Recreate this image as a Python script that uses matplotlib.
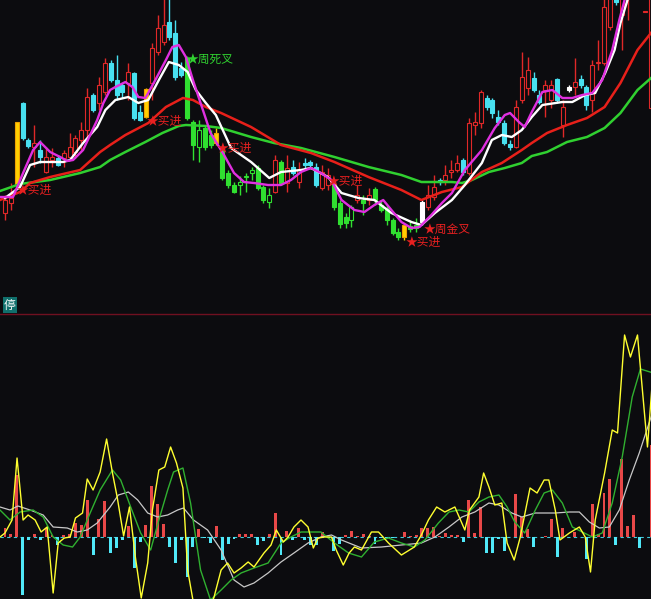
import matplotlib
matplotlib.use("Agg")
import matplotlib.pyplot as plt
from matplotlib.patches import Rectangle

plt.rcParams['font.family'] = ['Noto Sans CJK SC', 'DejaVu Sans']

# candle kinds: r red up, c cyan down, g green, y yellow, w white
kinds = list("rryccrcrrc" "rrrrrcrrcc" "crccyrrrcc" "cgggggyggg" "ggggggrgrc"
             "rcccrrgggg" "rgrgggggyg" "gwrrcrrrcr" "rrcccccrrr" "ccrrcrwrcc" "rrrrcrrrrrr")

opens = [8.7, 9.7, 11.5, 19.7, 16.0, 15.3, 15.0, 12.8, 14.0, 14.2,
         14.2, 14.3, 14.8, 16.0, 17.0, 20.5, 19.7, 20.8, 23.7, 22.0,
         21.5, 21.7, 22.7, 18.8, 18.3, 21.7, 24.8, 25.8, 27.8, 26.7,
         23.2, 24.2, 17.8, 15.3, 17.2, 16.5, 15.7, 15.0, 12.7, 11.5,
         11.5, 12.3, 12.7, 13.2, 11.3, 9.8, 10.8, 13.8, 11.7, 13.3,
         11.8, 13.7, 13.8, 13.3, 11.2, 11.5, 11.6, 9.7, 8.3, 8.0,
         10.0, 10.0, 10.0, 11.1, 9.5, 9.2, 8.0, 6.8, 6.3, 7.4,
         7.5, 7.8, 9.3, 10.3, 12.0, 12.0, 12.8, 13.0, 14.0, 12.7,
         17.5, 17.7, 20.2, 20.0, 18.3, 17.7, 15.6, 15.3, 20.0, 21.2,
         22.2, 20.5, 21.0, 20.0, 22.1, 17.5, 21.0, 21.3, 22.1, 21.3,
         20.0, 23.7, 23.7, 27.3, 30.5, 28.5, 30.5, 34.5, 36.0, 28.8, 19.2]
closes = [10.0, 10.2, 17.8, 16.2, 15.4, 15.7, 14.3, 14.3, 14.3, 13.5,
          14.7, 15.3, 16.2, 17.0, 20.3, 19.0, 21.5, 23.7, 22.0, 20.5,
          20.8, 22.8, 18.2, 18.0, 21.1, 25.2, 27.2, 27.5, 26.3, 22.3,
          22.5, 18.2, 15.5, 17.0, 15.3, 15.5, 16.7, 12.2, 11.5, 10.8,
          11.8, 12.4, 13.0, 11.2, 10.0, 10.5, 14.0, 11.7, 13.2, 12.7,
          13.0, 13.5, 13.5, 11.5, 12.8, 12.5, 9.3, 7.6, 7.7, 9.3,
          10.5, 9.7, 10.5, 10.0, 9.0, 8.0, 6.7, 6.3, 7.5, 7.1,
          7.2, 9.8, 10.5, 11.3, 11.8, 12.5, 13.0, 13.7, 12.8, 17.7,
          17.8, 20.8, 19.3, 18.7, 17.8, 15.7, 15.3, 19.3, 22.3, 23.0,
          21.0, 19.8, 21.5, 21.5, 20.0, 19.3, 21.3, 21.8, 21.5, 19.5,
          23.5, 23.8, 29.3, 31.0, 29.8, 31.0, 34.0, 38.0, 39.0, 28.8, 36.0]
highs = [10.5, 11.7, 17.8, 19.8, 16.2, 17.5, 16.0, 15.3, 15.2, 14.5,
         15.0, 16.7, 16.5, 17.8, 21.2, 20.7, 22.3, 24.2, 24.0, 24.5,
         21.7, 23.7, 22.8, 19.5, 21.2, 25.7, 28.5, 30.5, 30.5, 28.0,
         23.8, 24.4, 18.0, 18.0, 17.5, 17.0, 17.2, 15.2, 13.0, 11.8,
         12.4, 12.7, 13.3, 13.5, 11.5, 11.2, 14.5, 14.0, 14.5, 14.0,
         13.8, 14.2, 14.0, 13.7, 13.5, 13.2, 11.8, 10.0, 8.7, 9.5,
         11.5, 10.5, 11.2, 11.3, 10.0, 9.5, 8.2, 7.2, 7.7, 8.0,
         8.2, 10.0, 11.5, 12.5, 12.2, 13.5, 14.0, 14.5, 14.2, 18.2,
         18.8, 21.0, 20.5, 20.2, 19.0, 18.0, 16.0, 20.0, 24.8, 24.3,
         22.8, 21.0, 22.0, 22.0, 22.2, 20.0, 21.5, 24.2, 22.5, 21.5,
         24.0, 26.0, 30.5, 32.0, 31.5, 32.0, 35.0, 39.0, 40.0, 28.8, 37.0]
lows = [8.0, 9.0, 11.3, 16.0, 15.2, 13.3, 13.7, 12.7, 13.3, 13.4,
        13.3, 14.0, 14.2, 15.0, 16.3, 18.8, 19.0, 20.5, 21.8, 20.0,
        20.2, 20.0, 18.0, 17.9, 18.2, 20.0, 24.5, 25.5, 26.0, 22.0,
        22.3, 18.0, 14.0, 13.8, 15.0, 15.2, 15.5, 12.0, 11.2, 10.7,
        10.5, 10.8, 12.0, 11.0, 9.7, 9.2, 10.7, 11.5, 10.8, 12.5,
        11.2, 13.2, 13.3, 11.3, 11.0, 11.0, 9.0, 7.2, 7.2, 7.3,
        9.7, 8.5, 9.5, 9.5, 8.8, 7.5, 6.5, 6.0, 6.0, 6.8,
        6.8, 7.5, 9.0, 10.0, 11.5, 11.5, 12.2, 12.8, 12.5, 12.5,
        16.5, 17.2, 19.0, 18.2, 17.5, 15.5, 15.0, 15.2, 19.7, 20.5,
        20.8, 19.6, 18.3, 19.2, 19.7, 16.3, 20.8, 20.5, 21.2, 19.0,
        18.8, 23.0, 23.5, 27.0, 29.5, 25.0, 28.0, 33.0, 34.0, 28.8, 19.2]

# moving average lines (bar index, price)
ma_mag_x = [-0.85, 1.37, 3.08, 4.79, 5.98, 7.69, 9.4, 10.6, 11.6, 13.3, 15.7, 16.75, 17.9, 18.8, 20.5,
            21.7, 22.7, 23.9, 25.6, 27.4, 28.5, 29.6, 30.8, 32.0, 33.7, 35.0, 37.3, 39.0, 40.7, 42.4,
            44.8, 47.0, 48.7, 50.4, 52.1, 53.8, 55.6, 57.3, 59.5, 61.2, 62.9, 64.4, 65.8, 67.5, 69.2,
            70.6, 72.6, 74.4, 76.1, 78.3, 81.2, 83.4, 85.1, 86.0, 87.5, 88.5, 89.7, 91.5, 93.2, 94.9,
            96.6, 98.3, 100.0, 101.7, 103.4, 104.6, 105.5, 106.3]
ma_mag = [10.3, 10.3, 12.7, 15.0, 15.8, 14.8, 14.3, 13.9, 14.0, 15.0, 18.0, 19.7, 21.0, 21.3, 21.8,
          21.3, 20.3, 20.2, 22.0, 24.0, 25.3, 25.5, 24.3, 22.0, 19.0, 16.7, 14.5, 12.7, 11.8, 11.7,
          11.5, 11.5, 12.0, 12.8, 13.2, 12.7, 12.0, 10.0, 9.0, 8.8, 9.5, 10.0, 9.0, 7.8, 7.2,
          7.3, 8.5, 9.7, 10.7, 13.0, 15.0, 17.2, 18.5, 18.7, 17.8, 17.3, 18.8, 20.8, 21.0, 20.2,
          20.2, 20.5, 20.7, 22.0, 25.0, 28.0, 30.0, 32.0]
ma_wht_x = [0.0, 2.56, 4.27, 5.98, 9.91, 11.1, 13.3, 15.7, 17.1, 18.8, 21.0, 22.7, 24.4, 26.2, 27.9,
            29.6, 31.1, 32.5, 34.2, 35.9, 38.5, 41.9, 45.0, 47.0, 50.4, 52.1, 55.0, 57.3, 60.2, 62.9,
            65.8, 69.2, 70.9, 73.2, 76.1, 78.3, 81.2, 82.9, 84.6, 86.3, 88.0, 89.7, 91.5, 94.9, 96.6,
            98.8, 100.5, 102.2, 103.8, 104.8, 106.0, 106.8]
ma_wht = [10.2, 11.3, 13.5, 13.8, 13.8, 14.0, 15.7, 17.3, 19.0, 20.0, 20.3, 19.7, 20.0, 22.0, 23.8,
          23.5, 22.8, 21.0, 19.7, 18.5, 15.2, 13.8, 12.2, 12.8, 13.0, 13.2, 12.3, 10.7, 10.2, 10.0,
          8.7, 7.8, 7.5, 8.7, 10.0, 11.5, 13.7, 16.0, 16.5, 16.3, 17.0, 18.3, 19.5, 19.8, 19.8,
          20.5, 20.7, 22.7, 25.0, 27.7, 30.0, 32.0]
ma_red_x = [-0.85, 2.56, 4.27, 7.69, 12.8, 16.2, 17.9, 20.5, 24.4, 27.4, 30.3, 32.0, 34.2, 36.8, 41.9,
            47.0, 52.1, 56.1, 61.9, 67.5, 70.9, 74.4, 77.8, 81.2, 84.6, 88.0, 89.7, 92.3, 95.7, 99.1,
            102.1, 104.8, 107.7, 110.4]
ma_red = [10.0, 10.8, 11.7, 12.3, 13.0, 14.8, 15.5, 16.5, 17.7, 19.3, 20.2, 20.0, 19.3, 18.7, 17.3,
          15.5, 14.7, 13.8, 12.3, 11.0, 10.0, 10.8, 11.3, 12.8, 13.7, 15.0, 15.7, 16.7, 17.5, 18.2,
          19.3, 21.7, 25.0, 27.0]
ma_grn_x = [-0.85, 2.56, 7.69, 12.8, 16.2, 17.9, 20.5, 23.9, 26.8, 29.6, 30.8, 34.2, 36.8, 41.9, 45.8,
            50.4, 56.1, 61.9, 67.5, 70.9, 76.1, 77.8, 79.5, 82.4, 85.1, 88.0, 89.7, 92.3, 95.7, 99.1,
            102.1, 104.8, 107.7, 110.4]
ma_grn = [10.9, 11.6, 12.0, 12.7, 13.3, 14.0, 14.8, 15.8, 16.7, 17.4, 17.5, 17.4, 17.2, 16.3, 15.7,
          15.2, 14.3, 13.3, 12.5, 11.8, 11.8, 11.7, 12.0, 12.8, 13.2, 13.7, 14.4, 14.8, 15.8, 16.3,
          17.2, 18.7, 21.0, 22.4]

# signal labels
buy_x = [1.9, 24.1, 36.1, 55.0, 68.2]
buy_y = [11.0, 17.9, 15.2, 11.9, 5.8]
dead_x, dead_y = 30.9, 24.1
gold_x, gold_y = 71.3, 7.1

# lower panel
hist = [0.9, 0.3, 6.2, -5.8, -0.3, 0.3, -0.3, 0.9, 0.2, -0.8,
        0.2, 0.3, 1.4, 1.2, 3.7, -1.8, 1.8, 3.6, -1.6, -1.1,
        -0.3, 1.1, -3.1, -0.5, 1.2, 5.1, 3.3, 1.3, -1.0, -2.6,
        -0.3, -4.0, -1.0, 0.8, -0.1, -0.6, 1.1, -2.3, -0.7, -0.2,
        0.3, 0.3, 0.3, -0.8, -0.4, 0.3, 2.4, -1.8, 0.6, -0.3,
        0.9, -0.3, -0.8, -0.8, 0.5, 0.0, -1.4, -0.7, 0.2, 0.6,
        0.1, 0.3, 0.1, -0.7, -0.1, -0.1, -0.1, 0.0, 0.5, 0.1,
        0.2, 0.9, 0.9, 1.0, 0.1, 0.4, 0.2, 0.2, -0.5, 3.7,
        0.4, 3.0, -1.6, -1.6, -0.2, -1.4, 0.0, 4.3, 2.0, 0.8,
        -1.0, 0.0, 0.1, 1.8, -2.0, 0.9, 0.0, 0.5, 0.0, -2.2,
        3.3, 0.3, 4.4, 5.8, -0.8, 7.8, 1.1, 2.2, -1.1, 0.0, 9.2]
yel_x = [-0.85, 0, 1.2, 2.05, 3.08, 3.93, 5.13, 6.15, 7.18, 8.2,
         9.06, 10.1, 11.1, 12.0, 13.2, 14.0, 15.0, 16.2, 17.3, 18.3,
         19.1, 20.2, 21.2, 22.2, 23.2, 24.3, 25.1, 26.2, 27.2, 28.2,
         29.2, 30.3, 31.1, 32.0, 33.7, 35.6, 36.8, 37.9, 39.0, 40.2,
         41.4, 42.4, 44.1, 45.3, 46.2, 47.4, 48.2, 49.2, 50.4, 51.6,
         52.5, 53.3, 54.4, 55.6, 56.4, 57.6, 58.6, 59.5, 60.7, 62.4,
         63.6, 65.3, 67.5, 69.7, 70.9, 72.1, 73.5, 74.9, 76.6, 78.3,
         79.1, 80.7, 81.5, 82.4, 83.4, 84.6, 85.5, 86.7, 87.7, 89.4,
         90.6, 91.8, 92.6, 93.7, 94.5, 96.1, 97.8, 98.8, 99.7, 100.5,
         102.1, 103.4, 104.3, 105.5, 106.5, 107.7, 109.4, 110.4]
yel = [0.0, 0.4, 1.7, 7.9, 1.7, 2.2, 1.7, 0.5, 1.0, -5.6,
       -0.6, -0.1, 0.0, 1.9, 2.4, 5.8, 4.7, 6.5, 9.8, 6.4,
       4.0, 0.1, 3.0, -2.0, -6.1, -2.6, 2.7, 6.7, 7.0, 9.0,
       7.4, 4.9, -3.3, -6.3, -9.3, -6.0, -3.3, -2.6, -3.6, -3.1,
       -2.5, -3.0, -1.6, -0.8, 0.7, -0.5, 0.0, 1.0, 1.7, 1.0,
       -1.1, -0.1, 0.0, 0.0, -1.3, -2.8, -1.6, -1.0, -1.3, 0.5,
       0.5, -0.6, -1.8, -1.0, 0.2, 1.7, 3.0, 2.5, 3.0, 0.7,
       2.7, 4.0, 6.4, 5.0, 3.2, 3.4, -0.6, -2.3, -0.1, 4.9,
       4.4, 5.7, 5.7, 2.7, -0.3, 0.4, 1.0, 0.0, -3.5, 1.7,
       6.4, 10.7, 10.4, 20.2, 18.0, 20.2, 9.0, 17.0]
grn_x = [-0.85, 0.85, 2.56, 4.79, 6.5, 8.2, 9.91, 11.5, 12.8, 14.5,
         16.2, 18.3, 19.7, 21.4, 23.1, 24.8, 26.2, 27.7, 28.7, 30.3,
         31.6, 33.3, 35.0, 36.8, 38.5, 40.2, 42.4, 44.8, 47.0, 48.7,
         50.4, 53.8, 56.1, 58.5, 60.7, 62.9, 65.3, 67.5, 69.7, 71.5,
         73.8, 75.6, 77.3, 79.0, 80.7, 82.4, 84.1, 85.5, 86.8, 88.5,
         90.3, 91.8, 93.2, 94.9, 96.6, 98.3, 100.0, 101.7, 103.4, 105.1,
         106.8, 108.2, 110.4]
grn = [2.7, 1.7, 2.5, 2.7, 2.0, 0.0, -0.8, -1.0, 0.0, 2.4,
       4.7, 6.7, 5.7, 3.0, 0.4, -1.3, 1.7, 4.7, 6.5, 6.9,
       3.4, -3.3, -6.3, -5.3, -4.3, -3.6, -3.1, -2.6, -0.6, 0.0,
       0.5, 0.5, -0.6, -1.6, -2.0, -0.5, -0.1, -0.6, -1.0, -0.3,
       1.4, 2.5, 2.7, 2.5, 3.5, 4.0, 4.2, 3.0, 1.5, 0.4,
       2.7, 4.4, 4.7, 3.4, 1.0, 0.5, 0.0, 0.4, 3.4, 8.0,
       14.0, 16.8, 16.4]
gry_x = [-0.85, 0.85, 2.2, 4.27, 6.5, 8.2, 10.6, 12.3, 14.0, 15.7,
         17.9, 19.3, 21.0, 22.6, 24.3, 26.0, 27.7, 29.4, 30.4, 32.1,
         34.5, 36.8, 39.0, 40.7, 42.4, 44.8, 47.0, 49.2, 51.6, 53.8,
         55.6, 57.3, 60.7, 64.1, 67.5, 70.9, 73.2, 75.6, 77.8, 80.0,
         82.4, 84.1, 86.3, 88.0, 90.3, 93.7, 96.1, 97.8, 99.5, 101.2,
         102.9, 104.6, 106.3, 108.0, 110.4]
gry = [3.0, 2.7, 3.1, 2.7, 2.2, 1.0, 0.9, 0.5, 0.7, 1.4,
       3.0, 4.2, 4.5, 3.7, 2.4, 2.0, 2.2, 2.7, 2.9, 1.7,
       0.7, -1.3, -4.3, -5.0, -4.6, -3.6, -2.5, -1.6, -0.6, 0.0,
       0.2, -0.3, -1.1, -1.0, -0.8, -0.6, 0.0, 1.0, 2.0, 2.5,
       3.4, 3.2, 2.4, 2.0, 2.4, 2.4, 2.5, 2.5, 1.5, 0.9,
       1.0, 2.7, 5.7, 8.4, 12.7]

bg = '#0c0c0f'
cols = {'r': '#e02828', 'c': '#48e0f0', 'g': '#30e030', 'y': '#ffd000', 'w': '#ffffff'}

fig = plt.figure(figsize=(6.51, 5.99), dpi=100, facecolor=bg)
ax = fig.add_axes([0, 1 - 312 / 599, 1, 312 / 599])
ax2 = fig.add_axes([0, 0, 1, 286 / 599])
for a in (ax, ax2):
    a.set_facecolor(bg)
    a.set_xticks([])
    a.set_yticks([])
    for s in a.spines.values():
        s.set_visible(False)
    a.set_xlim(-0.85, 110.0)
ax.set_ylim(-1.2, 30)
ax2.set_ylim(-6.2, 22.4)

# candles
for i in range(len(kinds)):
    c = cols[kinds[i]]
    ax.vlines(i, lows[i], highs[i], color=c, lw=1, zorder=2)
    bot = min(opens[i], closes[i])
    h = max(abs(closes[i] - opens[i]), 0.1)
    hollow = closes[i] > opens[i] and kinds[i] in 'rg'
    edge = '#f0a000' if kinds[i] == 'y' else c
    ax.add_patch(Rectangle((i - 0.34, bot), 0.68, h, facecolor=bg if hollow else c,
                           edgecolor=edge, lw=0.8, zorder=3))

ax.plot(ma_grn_x, ma_grn, color='#30d030', lw=1.8, zorder=4)
ax.plot(ma_red_x, ma_red, color='#e8201a', lw=1.8, zorder=4)
ax.plot(ma_wht_x, ma_wht, color='#ffffff', lw=1.7, zorder=4)
ax.plot(ma_mag_x, ma_mag, color='#e030e0', lw=1.7, zorder=5)

for bx, by in zip(buy_x, buy_y):
    ax.text(bx, by, '★买进', color='#e82020', fontsize=8.5, va='center', ha='left', zorder=6)
ax.text(dead_x, dead_y, '★周死叉', color='#30d030', fontsize=8.5, va='center', ha='left', zorder=6)
ax.text(gold_x, gold_y, '★周金叉', color='#e82020', fontsize=8.5, va='center', ha='left', zorder=6)

# lower indicator
bar_cols = ['#e84848' if v > 0 else '#50e8f8' for v in hist]
ax2.bar(range(len(hist)), hist, width=0.5, color=bar_cols, zorder=2)
ax2.axhline(0, color='#40c8d8', lw=0.8, ls=(0, (3, 3)), zorder=1)
ax2.plot(gry_x, gry, color='#c8c8c8', lw=0.9, zorder=3)
ax2.plot(grn_x, grn, color='#30b030', lw=1.0, zorder=3)
ax2.plot(yel_x, yel, color='#ffff30', lw=1.0, zorder=4)

fig.add_artist(plt.Line2D([0, 1], [1 - 313.5 / 599] * 2, color='#701020', lw=1))
fig.text(4 / 651, 1 - 305 / 599, '停', color='white', fontsize=8.5, va='center', ha='left',
         bbox=dict(facecolor='#10706c', edgecolor='none', pad=1))

fig.savefig('out.png', dpi=100, facecolor=bg)
